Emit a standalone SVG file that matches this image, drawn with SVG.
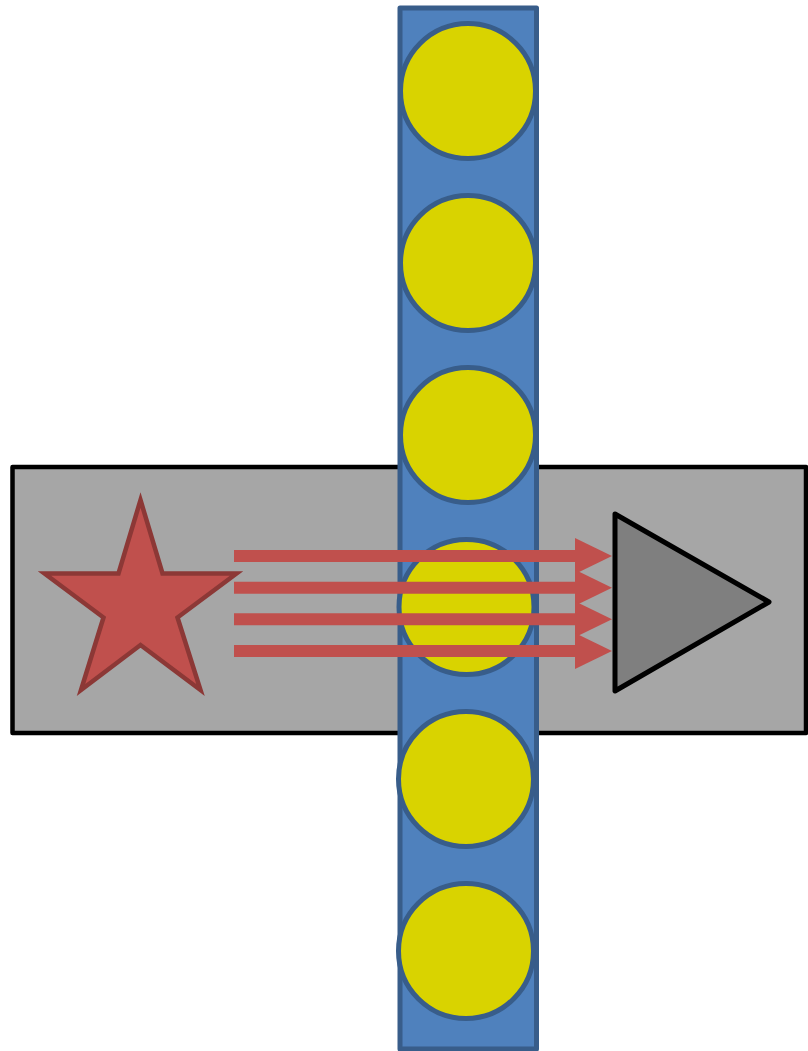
<svg xmlns="http://www.w3.org/2000/svg" width="808" height="1051" viewBox="0 0 808 1051">
  <style>
    .panel { fill: #a6a6a6; stroke: #000000; stroke-width: 4.5; stroke-linejoin: round; }
    .bar { fill: #4f81bd; stroke: #385d8a; stroke-width: 5; stroke-linejoin: round; }
    .dot { fill: #d9d300; stroke: #385d8a; stroke-width: 5; }
    .ray { stroke: #c0504d; stroke-width: 12; fill: none; }
    .star { fill: #c0504d; stroke: #8c3836; stroke-width: 4.5; stroke-linejoin: miter; }
    .det { fill: #7f7f7f; stroke: #000000; stroke-width: 5; stroke-linejoin: round; }
  </style>
  <defs>
    <marker id="head" markerUnits="userSpaceOnUse" viewBox="0 0 37 36" markerWidth="37" markerHeight="36" refX="1" refY="18" orient="auto">
      <path d="M0,0 L37,18 L0,36 Z" fill="#c0504d"/>
    </marker>
  </defs>
  <rect width="808" height="1051" fill="#ffffff"/>
  <g id="panel">
    <rect class="panel" x="12.5" y="467" width="793.5" height="266"/>
  </g>
  <g id="bar">
    <rect class="bar" x="400" y="8" width="136.5" height="1041"/>
  </g>
  <g id="dots">
    <circle id="dot1" class="dot" cx="468" cy="91" r="67.5"/>
    <circle id="dot2" class="dot" cx="468" cy="263" r="67.5"/>
    <circle id="dot3" class="dot" cx="468" cy="435" r="67.5"/>
    <circle id="dot4" class="dot" cx="466.5" cy="607" r="67.5"/>
    <circle id="dot5" class="dot" cx="466" cy="779" r="67.5"/>
    <circle id="dot6" class="dot" cx="466" cy="951" r="67.5"/>
  </g>
  <g id="connectors">
    <line class="ray" x1="234" y1="556" x2="576" y2="556" marker-end="url(#head)"/>
    <line class="ray" x1="234" y1="587.7" x2="576" y2="587.7" marker-end="url(#head)"/>
    <line class="ray" x1="234" y1="619.3" x2="576" y2="619.3" marker-end="url(#head)"/>
    <line class="ray" x1="234" y1="651" x2="576" y2="651" marker-end="url(#head)"/>
  </g>
  <g id="star">
    <polygon class="star" points="140.5,500 162.5,573.5 236.5,573.5 177.5,617.5 200.5,690 140.5,645 81,690 103.5,617.5 44.5,573.5 118.5,573.5"/>
  </g>
  <g id="detector">
    <polygon class="det" points="615,514 769,602 615,691"/>
  </g>
</svg>
